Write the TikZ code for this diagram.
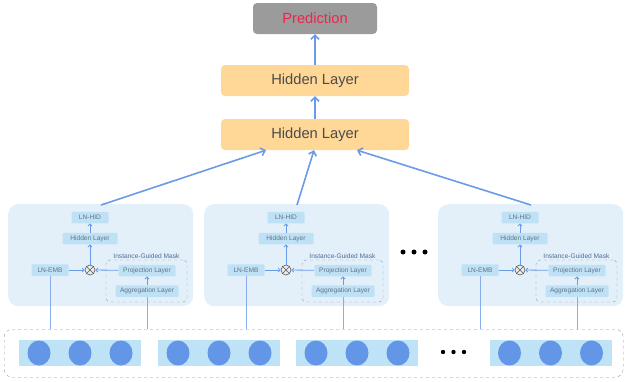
\documentclass[tikz,border=0pt]{standalone}
\usepackage{fontspec}
\setmainfont{Liberation Sans}
\usetikzlibrary{arrows.meta,calc}
\definecolor{blk}{HTML}{E3F0FA}
\definecolor{sm}{HTML}{BFE1F5}
\definecolor{arr}{HTML}{6A9BE8}
\definecolor{circ}{HTML}{6396E6}
\definecolor{strip}{HTML}{BEE3F7}
\definecolor{hid}{HTML}{FFD797}
\definecolor{pred}{HTML}{9B9B9B}
\definecolor{predtxt}{HTML}{E8284E}
\definecolor{smtxt}{HTML}{5F7388}
\definecolor{dashc}{HTML}{8497B5}
\definecolor{igmtxt}{HTML}{4F6A95}
\begin{document}
\begin{tikzpicture}[x=1pt,y=-1pt,
  bigbox/.style={rounded corners=4pt, minimum width=188pt, minimum height=31pt, inner sep=0pt, fill=hid, text=black!70, font=\fontsize{14.7}{16}\selectfont},
  smallbox/.style={fill=sm, text=smtxt, inner sep=0pt, minimum height=11.5pt, rounded corners=1pt, font=\fontsize{6.6}{7}\selectfont},
  block/.style={fill=blk, rounded corners=10pt, minimum width=185pt, minimum height=102pt, inner sep=0pt, anchor=north west},
  bigarrow/.style={draw=arr, line width=1.6pt, -{Straight Barb[length=4pt,width=8pt]}},
  smarrow/.style={draw=arr, line width=0.8pt, -{Straight Barb[length=2pt,width=4pt]}},
  feed/.style={draw=arr!80, line width=0.9pt},
  strbox/.style={fill=strip, minimum width=122pt, minimum height=26pt, inner sep=0pt},
  dotc/.style={fill=black}
]
\useasboundingbox (0,0) rectangle (625,381);

% top stack
\node[bigbox, fill=pred, text=predtxt, minimum width=124pt] (pred) at (315,18.5) {Prediction};
\node[bigbox] (h2) at (315,80.5) {Hidden Layer};
\node[bigbox] (h1) at (315,134.5) {Hidden Layer};
\draw[bigarrow] (h2) -- (pred);
\draw[bigarrow] (h1) -- (h2);

% bottom input box
\node[draw=dashc, dashed, rounded corners=8pt, minimum width=619pt, minimum height=48pt, inner sep=0pt, anchor=north west] (bot) at (4,329) {};
\foreach \c [count=\j] in {80,219,357,550.5}{
  \node[strbox] (st\j) at (\c,353) {};
  \foreach \d in {-41,0,41}{
    \fill[circ] (\c+\d,353) ellipse (11.5 and 12.5);
  }
}
\foreach \x in {443,453.5,464}{ \fill[dotc] (\x,352) circle (2.2); }

% blocks
\foreach \i/\L in {1/8,2/204,3/438}{
  \node[block] (blk\i) at (\L,204) {};
  \node[smallbox, minimum width=37pt] (lnhid\i) at (\L+82,217.5) {LN-HID};
  \node[smallbox, minimum width=55pt] (hid\i) at (\L+82,238.5) {Hidden Layer};
  \node[smallbox, minimum width=37pt] (lnemb\i) at (\L+42,270) {LN-EMB};
  \node[draw=dashc, dashed, rounded corners=4pt, minimum width=81pt, minimum height=42pt, inner sep=0pt] (igm\i) at (\L+138.5,281) {};
  \node[anchor=south, inner sep=0.6pt, text=igmtxt, font=\fontsize{6.6}{7}\selectfont] (igl\i) at (igm\i.north) {Instance-Guided Mask};
  \node[smallbox, minimum width=57pt] (proj\i) at (\L+139,270.5) {Projection Layer};
  \node[smallbox, minimum width=63pt] (agg\i) at (\L+139,291) {Aggregation Layer};
  \node[circle, draw=black!65, fill=black!8, line width=0.6pt, minimum size=10pt, inner sep=0pt] (ot\i) at (\L+82,270) {};
  \draw[black!65, line width=0.6pt] (ot\i.north west) -- (ot\i.south east) (ot\i.north east) -- (ot\i.south west);
  \draw[smarrow] (lnemb\i) -- (ot\i);
  \draw[smarrow] (proj\i) -- (ot\i);
  \draw[smarrow] (ot\i) -- (hid\i);
  \draw[smarrow] (hid\i) -- (lnhid\i);
  \draw[smarrow] (agg\i) -- (proj\i);
  \draw[feed] (lnemb\i.south) -- (lnemb\i.south |- bot.north);
  \draw[feed] (agg\i.south) -- (agg\i.south |- bot.north);
  \coordinate (s\i) at (\L+93,205);
}
\foreach \x in {403,414,425}{ \fill[dotc] (\x,252) circle (2.5); }

% arrows into the hidden layer
\draw[bigarrow] (s1) -- ($(h1.south)+(-49,0)$);
\draw[bigarrow] (s2) -- ($(h1.south)+(-1,0)$);
\draw[bigarrow] (s3) -- ($(h1.south)+(42,0)$);
\end{tikzpicture}
\end{document}
